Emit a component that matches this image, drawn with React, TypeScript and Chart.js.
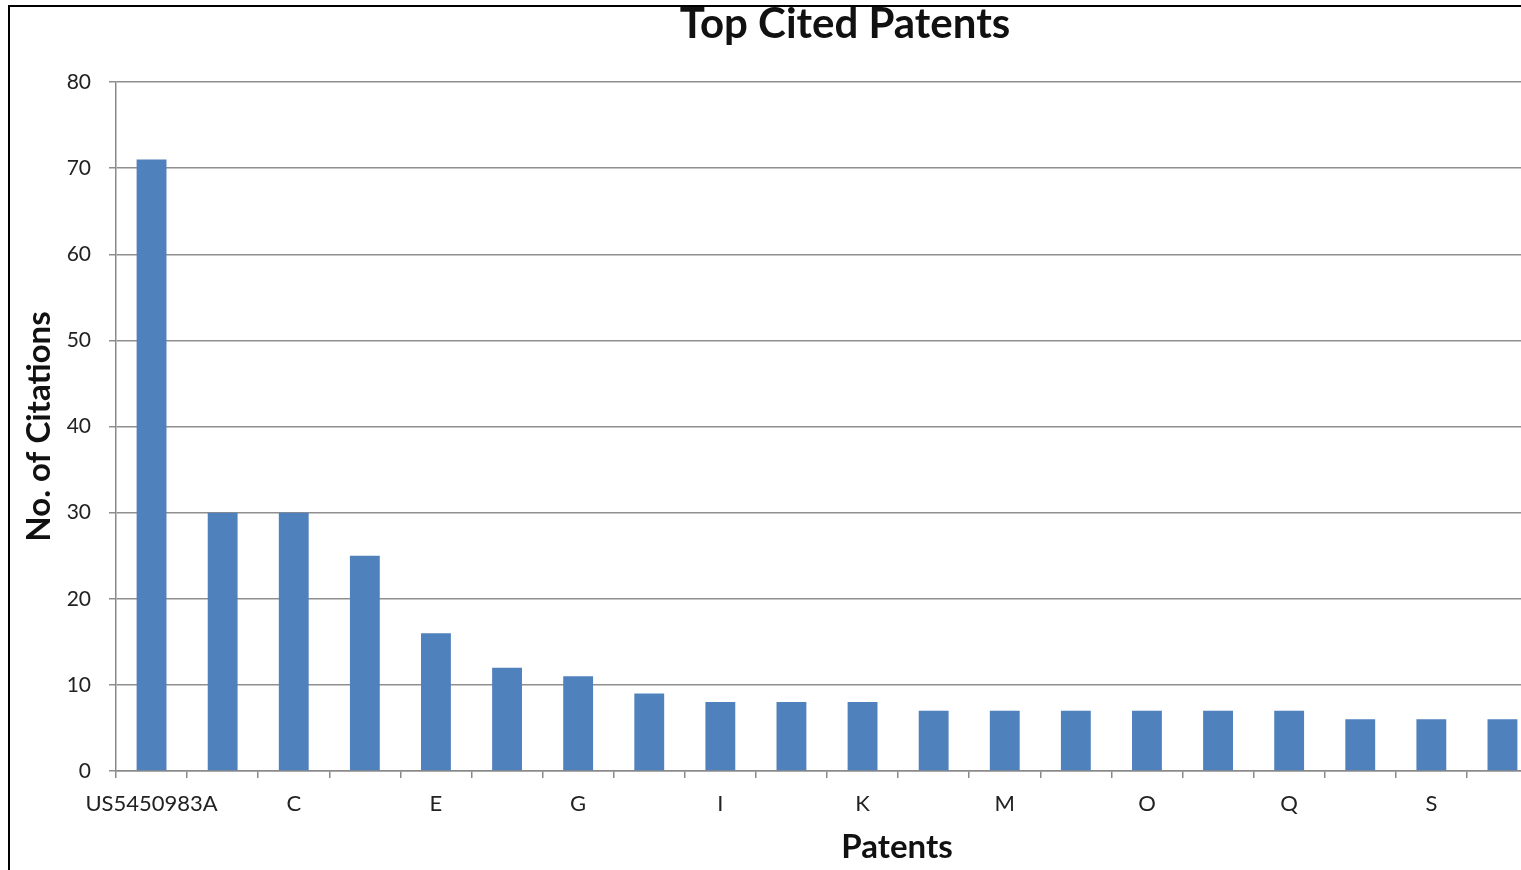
import React, { useEffect, useRef } from "react";
import { Chart, registerables } from "chart.js";

Chart.register(...registerables);

const categories = ["US5450983A", "B", "C", "D", "E", "F", "G", "H", "I", "J", "K", "L", "M", "N", "O", "P", "Q", "R", "S", "T"];
const citations = [71, 30, 30, 25, 16, 12, 11, 9, 8, 8, 8, 7, 7, 7, 7, 7, 7, 6, 6, 6];
const yMin = 0;
const yMax = 80;
const yStep = 10;
const chartTitle = "Top Cited Patents";
const xTitle = "Patents";
const yTitle = "No. of Citations";

const CANVAS_W = 1600;
const CANVAS_H = 863;

const freeTitles = {
  id: "freeTitles",
  afterDraw(chart: any) {
    const ctx = chart.ctx;
    ctx.save();
    ctx.fillStyle = "#111";
    ctx.textAlign = "center";
    ctx.textBaseline = "alphabetic";
    ctx.font = "bold 42px Lato";
    ctx.fillText(chartTitle, 835, 31);
    ctx.font = "bold 33px Lato";
    ctx.fillText(xTitle, 887, 851);
    ctx.restore();
  },
};

export default function App() {
  const ref = useRef<HTMLCanvasElement | null>(null);

  useEffect(() => {
    if (!ref.current) return;
    const chart = new Chart(ref.current, {
      type: "bar",
      data: {
        labels: categories,
        datasets: [
          {
            label: "Citations",
            data: citations,
            backgroundColor: "#4F81BD",
            borderWidth: 0,
            barPercentage: 0.42,
            categoryPercentage: 1,
          },
        ],
      },
      options: {
        animation: false,
        responsive: false,
        devicePixelRatio: 1,
        layout: { padding: { left: 0, top: 75, right: CANVAS_W - 1528, bottom: 0 } },
        plugins: {
          legend: { display: false },
          title: { display: false },
          tooltip: { enabled: false },
        },
        scales: {
          x: {
            offset: true,
            grid: {
              display: true,
              drawOnChartArea: false,
              drawTicks: true,
              tickLength: 7,
              color: "#8a8a8a",
              lineWidth: 1.5,
              offset: true,
            },
            border: { display: true, color: "#8a8a8a", width: 1.5 },
            ticks: {
              autoSkip: false,
              maxRotation: 0,
              minRotation: 0,
              padding: 13,
              color: "#222",
              font: { family: "Lato", size: 22 },
              callback: (_v: any, i: number) => (i % 2 === 0 ? categories[i] : ""),
            },
            afterFit: (scale: any) => {
              scale.height = 99;
            },
          },
          y: {
            min: yMin,
            max: yMax,
            ticks: {
              stepSize: yStep,
              padding: 18,
              color: "#222",
              font: { family: "Lato", size: 21 },
            },
            grid: {
              color: "#8f8f8f",
              lineWidth: 1.5,
              drawTicks: true,
              tickLength: 7,
            },
            border: { display: true, color: "#8a8a8a", width: 1.5 },
            title: {
              display: true,
              text: yTitle,
              color: "#111",
              font: { family: "Lato", size: 33, weight: "bold" },
              padding: { top: 10, bottom: 0 },
            },
            afterFit: (scale: any) => {
              scale.width = 106;
            },
          },
        },
      },
      plugins: [freeTitles],
    });
    return () => chart.destroy();
  }, []);

  return (
    <div
      style={{
        position: "fixed",
        left: 0,
        top: 0,
        width: 1521,
        height: 870,
        overflow: "hidden",
        background: "#fff",
      }}
    >
      <div
        style={{
          position: "absolute",
          left: 8,
          top: 5,
          width: 1700,
          height: 900,
          borderLeft: "2px solid #000",
          borderTop: "2px solid #000",
        }}
      >
        <canvas
          ref={ref}
          width={CANVAS_W}
          height={CANVAS_H}
          style={{ position: "absolute", left: 0, top: 0, width: CANVAS_W, height: CANVAS_H }}
        />
      </div>
    </div>
  );
}
